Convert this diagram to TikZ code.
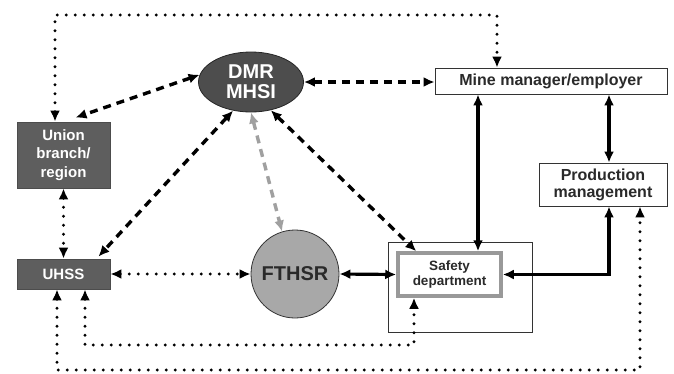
\documentclass[tikz,border=0pt]{standalone}
\usepackage{fontspec}
\setmainfont{Liberation Sans}
\usetikzlibrary{arrows.meta,shapes.geometric}
\definecolor{darkfill}{HTML}{4D4D4D}
\definecolor{unionfill}{HTML}{5E5E5E}
\definecolor{repfill}{HTML}{A8A8A8}
\definecolor{greyline}{HTML}{A0A0A0}
\definecolor{textdark}{HTML}{2A2A2A}
\begin{document}
\begin{tikzpicture}[x=1pt,y=-1pt,
  tip/.tip={Latex[length=11pt,width=10pt]},
  dashline/.style={line width=3.4pt,dash pattern=on 8pt off 6pt,{tip}-{tip}},
  greydash/.style={dashline,draw=greyline},
  dotline/.style={line width=3.2pt,line cap=round,dash pattern=on 0pt off 9pt,{tip}-{tip}},
  solidline/.style={line width=3.2pt,{tip}-{tip}},
  whitebox/.style={draw=black!80,line width=0.8pt,fill=white,text=textdark,align=center,inner sep=0pt},
  greybox/.style={draw=black!70,line width=0.8pt,fill=unionfill,text=white,align=center,inner sep=0pt},
]
\useasboundingbox (0,0) rectangle (674,373);

% organisations
\node[ellipse,draw=black!85,line width=0.8pt,fill=darkfill,text=white,align=center,
      minimum width=105pt,minimum height=60pt,inner sep=0pt,
      font=\fontsize{20}{20}\selectfont\bfseries] (dmr) at (251,82) {DMR\\MHSI};
\node[greybox,minimum width=93pt,minimum height=66pt,
      font=\fontsize{15}{18.5}\selectfont\bfseries] (union) at (63.5,155) {Union\\branch/\\region};
\node[greybox,minimum width=93pt,minimum height=30pt,
      font=\fontsize{15}{18}\selectfont\bfseries] (uhss) at (63.5,274) {UHSS};
\node[circle,draw=black!80,line width=0.8pt,fill=repfill,text=textdark,
      minimum size=88pt,inner sep=0pt,
      font=\fontsize{20}{20}\selectfont\bfseries] (fthsr) at (295,274) {FTHSR};
\node[draw=black!80,line width=0.8pt,minimum width=144pt,minimum height=90pt,inner sep=0pt] (frame) at (460,287) {};
\node[whitebox,draw=black!40,line width=3.5pt,minimum width=103pt,minimum height=43pt,
      font=\fontsize{13.5}{15}\selectfont\bfseries] (safety) at (449.5,274.5) {Safety\\department};
\node[whitebox,minimum width=232pt,minimum height=26pt,
      font=\fontsize{16}{17}\selectfont\bfseries] (mine) at (551,81) {Mine manager/employer};
\node[whitebox,minimum width=128pt,minimum height=43pt,
      font=\fontsize{16}{17}\selectfont\bfseries] (prod) at (603,184.5) {Production\\management};

% routing points
\coordinate (tl) at (55,15);
\coordinate (tr) at (497,15);
\coordinate (xa) at (478,0);
\coordinate (xb) at (609,0);
\coordinate (c1) at (85,345);
\coordinate (c2) at (414,345);
\coordinate (d1) at (57,370);
\coordinate (d2) at (640,370);

% dashed links from DMR MHSI
\draw[dashline] (dmr.east) -- (dmr.east -| mine.west);
\draw[dashline] (dmr.172) -- ([xshift=12pt,yshift=4pt]union.north);
\draw[dashline] (dmr.238) -- ([xshift=-12pt,yshift=2pt]uhss.north east);
\draw[dashline] (dmr.305) -- ([xshift=20pt]safety.north west);
\draw[greydash] (dmr.south) -- (fthsr.107);

% solid links
\draw[solidline] (mine.south -| xa) -- (safety.north -| xa);
\draw[solidline] (mine.south -| xb) -- (prod.north -| xb);
\draw[solidline] (prod.south -| xb) |- (safety.east);
\draw[solidline] (fthsr.east) -- (safety.west);

% dotted links
\draw[dotline] (union.north -| tl) -- (tl) -- (tr) -- (mine.north -| tr);
\draw[dotline] (union.south) -- (uhss.north);
\draw[dotline] (uhss.east) -- (fthsr.west);
\draw[dotline] (uhss.south -| c1) -- (c1) -- (c2) -- (safety.south -| c2);
\draw[dotline] (uhss.south -| d1) -- (d1) -- (d2) -- (prod.south -| d2);
\end{tikzpicture}
\end{document}
